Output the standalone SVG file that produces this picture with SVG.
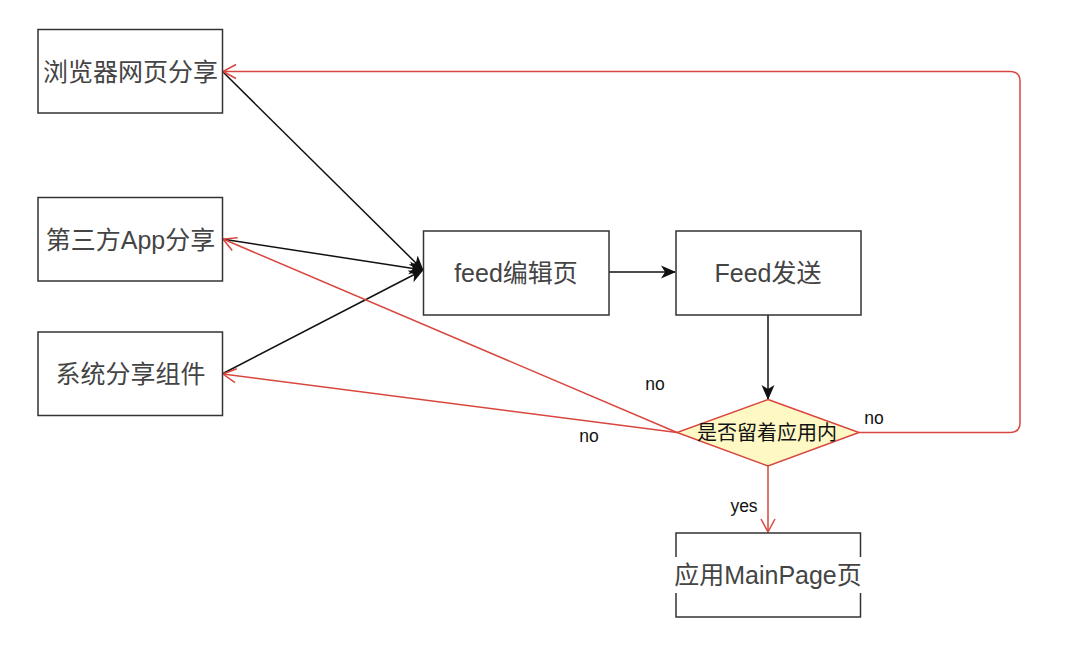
<svg xmlns="http://www.w3.org/2000/svg" width="1080" height="657" viewBox="0 0 1080 657">
<style>
.box{fill:#fff;stroke:#333;stroke-width:1.5}
.t{font-family:"Liberation Sans","Noto Sans CJK SC",sans-serif;font-size:25px;fill:#444;text-anchor:middle;dominant-baseline:central}
.dt{font-family:"Liberation Sans","Noto Sans CJK SC",sans-serif;font-size:20px;fill:#111;text-anchor:middle;dominant-baseline:central}
.lbl{font-family:"Liberation Sans","Noto Sans CJK SC",sans-serif;font-size:17.5px;fill:#111;text-anchor:middle;dominant-baseline:central}
.bk{fill:none;stroke:#111;stroke-width:1.5}
.rd{fill:none;stroke:#d9463e;stroke-width:1.5}
</style>
<defs>
<marker id="ab" markerUnits="userSpaceOnUse" markerWidth="16" markerHeight="16" viewBox="0 0 16 16" refX="14" refY="8" orient="auto">
<path d="M0,1.5 L15,8 L0,14.5 L4,8 Z" fill="#111"/>
</marker>
<marker id="ar" markerUnits="userSpaceOnUse" markerWidth="16" markerHeight="18" viewBox="0 0 16 18" refX="14" refY="9" orient="auto">
<path d="M1,2 L14,9 L1,16" fill="none" stroke="#d9463e" stroke-width="1.5"/>
</marker>
</defs>
<rect width="1080" height="657" fill="#fff"/>
<g id="connectors">
<line class="bk" x1="222" y1="71" x2="423" y2="270" marker-end="url(#ab)"/>
<line class="bk" x1="222" y1="239" x2="423" y2="270" marker-end="url(#ab)"/>
<line class="bk" x1="222" y1="374" x2="423" y2="270" marker-end="url(#ab)"/>
<line class="bk" x1="609" y1="272" x2="675" y2="272" marker-end="url(#ab)"/>
<line class="bk" x1="768" y1="315" x2="768" y2="399" marker-end="url(#ab)"/>
<path class="rd" d="M859,432.5 L1010,432.5 Q1020,432.5 1020,422.5 L1020,81.5 Q1020,71.5 1010,71.5 L223,71.5" marker-end="url(#ar)"/>
<line class="rd" x1="677" y1="432.5" x2="223" y2="239" marker-end="url(#ar)"/>
<line class="rd" x1="677" y1="432.5" x2="223" y2="374" marker-end="url(#ar)"/>
<line class="rd" x1="768" y1="466" x2="768" y2="532" marker-end="url(#ar)"/>
<text class="lbl" x="655" y="384">no</text>
<text class="lbl" x="589" y="436">no</text>
<text class="lbl" x="874" y="418">no</text>
<text class="lbl" x="744" y="506">yes</text>
</g>
<g id="n1"><rect class="box" x="38" y="29.5" width="184.5" height="83.5"/><text class="t" x="130.5" y="72">浏览器网页分享</text></g>
<g id="n2"><rect class="box" x="38" y="197.5" width="184.5" height="83.5"/><text class="t" x="130.5" y="240">第三方App分享</text></g>
<g id="n3"><rect class="box" x="38" y="332" width="184.5" height="83.5"/><text class="t" x="130.5" y="374">系统分享组件</text></g>
<g id="n4"><rect class="box" x="423.5" y="231" width="185.5" height="84"/><text class="t" x="516" y="273">feed编辑页</text></g>
<g id="n5"><rect class="box" x="676" y="231" width="185" height="84"/><text class="t" x="768" y="273">Feed发送</text></g>
<g id="n6"><polygon points="768,399.5 859,432.5 768,466 677,432.5" fill="#fdf8c4" stroke="#d9463e" stroke-width="1.5"/><text class="dt" x="767" y="433">是否留着应用内</text></g>
<g id="n7"><rect class="box" x="676" y="533" width="184.5" height="84"/><rect x="672" y="557" width="194" height="36" fill="#fff"/><text class="t" x="768" y="575">应用MainPage页</text></g>
</svg>
